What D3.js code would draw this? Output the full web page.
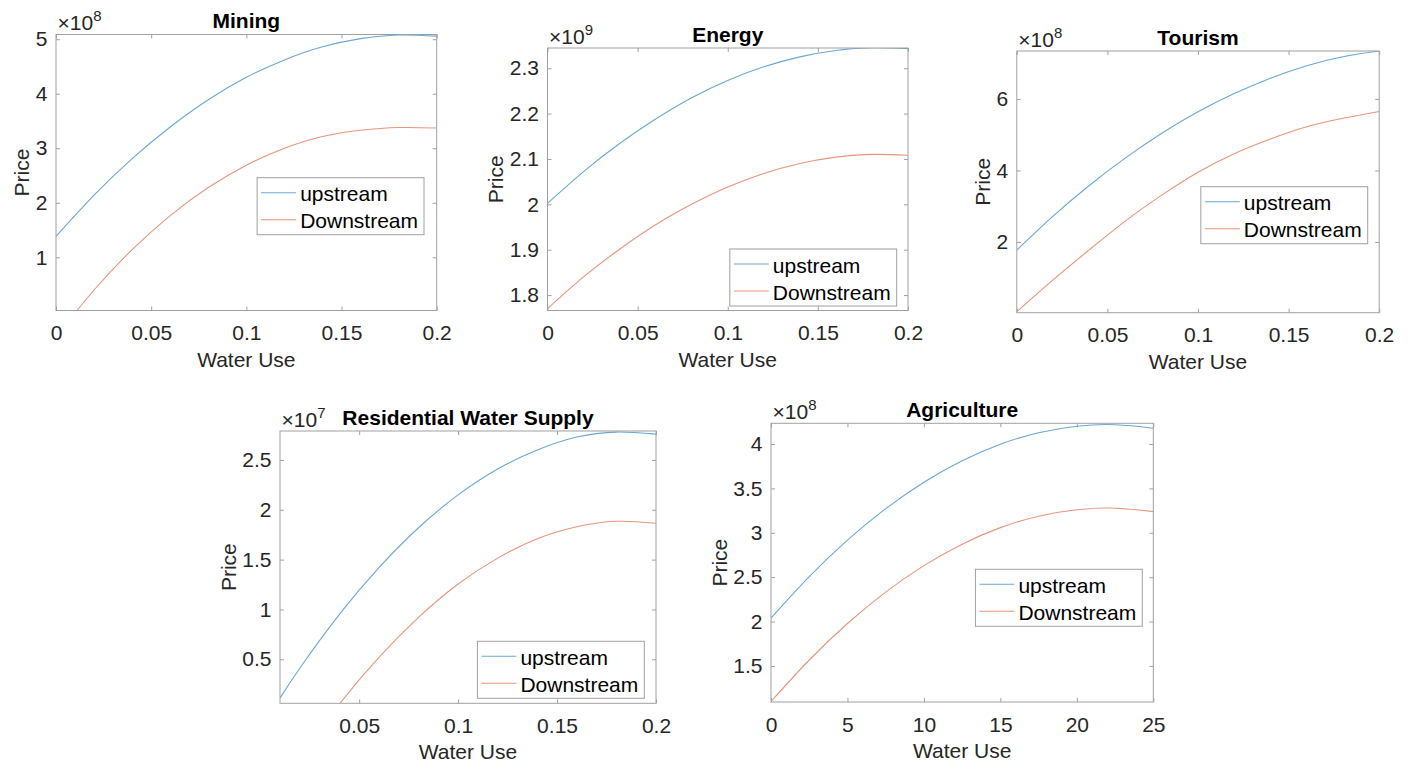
<!DOCTYPE html>
<html><head><meta charset="utf-8">
<script src="https://cdn.jsdelivr.net/npm/d3@7"></script>
<style>body{margin:0;background:#fff} svg{display:block}</style>
</head><body>
<svg id="chart" width="1412" height="769"></svg>
<script>
// ---------------- data ----------------
const panelTitles = ["Mining", "Energy", "Tourism", "Residential Water Supply", "Agriculture"];
const seriesNames = ["upstream", "Downstream"];
const exponents = [8, 9, 8, 7, 8];
const xLabelText = "Water Use";
const yLabelText = "Price";

const waterUse = [0, 0.02, 0.04, 0.06, 0.08, 0.1, 0.12, 0.14, 0.16, 0.18, 0.2];
const waterUseResidential = [0.01, 0.02, 0.04, 0.06, 0.08, 0.1, 0.12, 0.14, 0.16, 0.18, 0.2];
const waterUseAgriculture = [0, 2.5, 5, 7.5, 10, 12.5, 15, 17.5, 20, 22.5, 25];

const miningUpstream = [1.385, 2.14, 2.81, 3.39, 3.89, 4.30, 4.62, 4.86, 5.01, 5.077, 5.056];
const miningDownstream = [-0.46, 0.40, 1.14, 1.765, 2.28, 2.69, 3.00, 3.215, 3.33, 3.38, 3.37];
const energyUpstream = [2.002, 2.072, 2.134, 2.188, 2.235, 2.273, 2.303, 2.325, 2.339, 2.345, 2.343];
const energyDownstream = [1.770, 1.840, 1.901, 1.955, 2.000, 2.038, 2.068, 2.090, 2.104, 2.110, 2.108];
const tourismUpstream = [1.77, 2.72, 3.58, 4.35, 5.04, 5.64, 6.15, 6.58, 6.93, 7.18, 7.34];
const tourismDownstream = [0.05, 0.94, 1.78, 2.59, 3.31, 3.95, 4.47, 4.88, 5.22, 5.46, 5.65];
const residentialUpstream = [0.11, 0.41, 0.95, 1.42, 1.82, 2.15, 2.41, 2.60, 2.73, 2.78, 2.76];
const residentialDownstream = [-0.785, -0.49, 0.05, 0.52, 0.92, 1.255, 1.515, 1.71, 1.83, 1.885, 1.865];
const agricultureUpstream = [2.04, 2.507, 2.918, 3.272, 3.57, 3.812, 3.998, 4.127, 4.20, 4.217, 4.178];
const agricultureDownstream = [1.10, 1.567, 1.978, 2.332, 2.630, 2.872, 3.058, 3.187, 3.260, 3.277, 3.238];

const xLimits = [[0, 0.2], [0, 0.2], [0, 0.2], [0.01, 0.2], [0, 25]];
const yLimits = [[0.024, 5.086], [1.766, 2.3445], [0.022, 7.34], [0.058, 2.791], [1.094, 4.233]];
const xTickValues = [
  [0, 0.05, 0.1, 0.15, 0.2], [0, 0.05, 0.1, 0.15, 0.2], [0, 0.05, 0.1, 0.15, 0.2],
  [0.05, 0.1, 0.15, 0.2], [0, 5, 10, 15, 20, 25]
];
const yTickValues = [
  [1, 2, 3, 4, 5], [1.8, 1.9, 2, 2.1, 2.2, 2.3], [2, 4, 6],
  [0.5, 1, 1.5, 2, 2.5], [1.5, 2, 2.5, 3, 3.5, 4]
];

// ---------------- layout (positions / styles) ----------------
const boxes = [
  {l: 56, t: 34.5, r: 436.7, b: 310.5},
  {l: 547.5, t: 48, r: 908, b: 310.5},
  {l: 1016.8, t: 51, r: 1379.2, b: 312.7},
  {l: 280, t: 431, r: 656, b: 703.3},
  {l: 771, t: 423.3, r: 1153.3, b: 702}
];
const legendPlacement = [
  {inset: 12.7, top: 143.2},
  {inset: 11.3, bottom: 4.5},
  {inset: 11.5, top: 135.7},
  {inset: 11.7, bottom: 5},
  {inset: 11, top: 146}
];
const FONT = "'Liberation Sans', Arial, Helvetica, sans-serif";
const FS = 21;
const AXIS_COLOR = "#a0a0a0";
const TEXT_COLOR = "#262626";
const COLORS = ["#6aa7d6", "#e8957a"];

const panels = [
  {x: waterUse, s: [miningUpstream, miningDownstream]},
  {x: waterUse, s: [energyUpstream, energyDownstream]},
  {x: waterUse, s: [tourismUpstream, tourismDownstream]},
  {x: waterUseResidential, s: [residentialUpstream, residentialDownstream]},
  {x: waterUseAgriculture, s: [agricultureUpstream, agricultureDownstream]}
];

const svg = d3.select("#chart");
svg.append("rect").attr("width", 1412).attr("height", 769).attr("fill", "#fff");
const fmt = d3.format("~g");

panels.forEach((p, i) => {
  const bx = boxes[i];
  const g = svg.append("g");
  const x = d3.scaleLinear().domain(xLimits[i]).range([bx.l, bx.r]);
  const y = d3.scaleLinear().domain(yLimits[i]).range([bx.b, bx.t]);

  const clipId = "clip" + i;
  svg.append("clipPath").attr("id", clipId).append("rect")
    .attr("x", bx.l).attr("y", bx.t).attr("width", bx.r - bx.l).attr("height", bx.b - bx.t);

  // axes (ticks inward on all four sides)
  const styleAxis = sel => {
    sel.select(".domain").remove();
    sel.selectAll(".tick line").attr("stroke", AXIS_COLOR).attr("stroke-width", 1);
    sel.selectAll("text").attr("font-family", FONT).attr("font-size", FS).attr("fill", TEXT_COLOR);
  };
  const xb = g.append("g").attr("transform", `translate(0,${bx.b})`)
    .call(d3.axisBottom(x).tickValues(xTickValues[i]).tickSize(-4).tickPadding(14.6).tickFormat(fmt));
  styleAxis(xb);
  const xt = g.append("g").attr("transform", `translate(0,${bx.t})`)
    .call(d3.axisTop(x).tickValues(xTickValues[i]).tickSize(-4).tickFormat(""));
  styleAxis(xt);
  const yl = g.append("g").attr("transform", `translate(${bx.l},0)`)
    .call(d3.axisLeft(y).tickValues(yTickValues[i]).tickSize(-4).tickPadding(8.5).tickFormat(fmt));
  styleAxis(yl);
  const yr = g.append("g").attr("transform", `translate(${bx.r},0)`)
    .call(d3.axisRight(y).tickValues(yTickValues[i]).tickSize(-4).tickFormat(""));
  styleAxis(yr);

  // lines
  const lineGen = d3.line().x((d, k) => x(p.x[k])).y(d => y(d)).curve(d3.curveNatural);
  const lg = g.append("g").attr("clip-path", `url(#${clipId})`);
  p.s.forEach((vals, si) => {
    lg.append("path").attr("d", lineGen(vals)).attr("fill", "none")
      .attr("stroke", COLORS[si]).attr("stroke-width", 1.1);
  });

  // box
  g.append("rect").attr("x", bx.l).attr("y", bx.t).attr("width", bx.r - bx.l).attr("height", bx.b - bx.t)
    .attr("fill", "none").attr("stroke", AXIS_COLOR).attr("stroke-width", 1);

  // title
  g.append("text").attr("x", (bx.l + bx.r) / 2).attr("y", bx.t - 6.3)
    .attr("text-anchor", "middle").attr("font-family", FONT).attr("font-size", FS)
    .attr("font-weight", "bold").attr("fill", "#000").text(panelTitles[i]);

  // exponent
  const ex = g.append("text").attr("x", bx.l + 1.5).attr("y", bx.t - 4.5)
    .attr("font-family", FONT).attr("font-size", 21).attr("fill", TEXT_COLOR);
  ex.append("tspan").text("\u00d710");
  ex.append("tspan").attr("dy", -9).attr("font-size", 15).text(exponents[i]);

  // x label
  g.append("text").attr("x", (bx.l + bx.r) / 2).attr("y", bx.b + 56)
    .attr("text-anchor", "middle").attr("font-family", FONT).attr("font-size", FS)
    .attr("fill", TEXT_COLOR).text(xLabelText);

  // y label, placed left of the widest tick label
  let minX = Infinity;
  yl.selectAll("text").each(function () {
    const bb = this.getBBox();
    minX = Math.min(minX, bx.l - 8.5 - bb.width);
  });
  const lx = minX - 6.5, ly = (bx.t + bx.b) / 2;
  g.append("text").attr("transform", `translate(${lx},${ly}) rotate(-90)`)
    .attr("text-anchor", "middle").attr("font-family", FONT).attr("font-size", FS)
    .attr("fill", TEXT_COLOR).text(yLabelText);

  // legend
  const lgG = g.append("g");
  const lgRect = lgG.append("rect").attr("fill", "#fff").attr("stroke", AXIS_COLOR).attr("stroke-width", 1);
  let maxW = 0;
  const texts = seriesNames.map((name, si) => {
    const t = lgG.append("text").attr("font-family", FONT).attr("font-size", FS)
      .attr("fill", "#000").attr("dominant-baseline", "central").text(name);
    maxW = Math.max(maxW, t.node().getComputedTextLength());
    return t;
  });
  const lw = 43 + maxW + 6, lh = 57;
  const lp = legendPlacement[i];
  const left = bx.r - lp.inset - lw;
  const top = lp.top !== undefined ? bx.t + lp.top : bx.b - lp.bottom - lh;
  lgRect.attr("x", left).attr("y", top).attr("width", lw).attr("height", lh);
  const rowY = [top + 15, top + 42];
  seriesNames.forEach((name, si) => {
    lgG.append("line").attr("x1", left + 4).attr("x2", left + 39)
      .attr("y1", rowY[si]).attr("y2", rowY[si])
      .attr("stroke", COLORS[si]).attr("stroke-width", 1.1);
    texts[si].attr("x", left + 43).attr("y", rowY[si] + 1);
  });
});
</script>
</body></html>
